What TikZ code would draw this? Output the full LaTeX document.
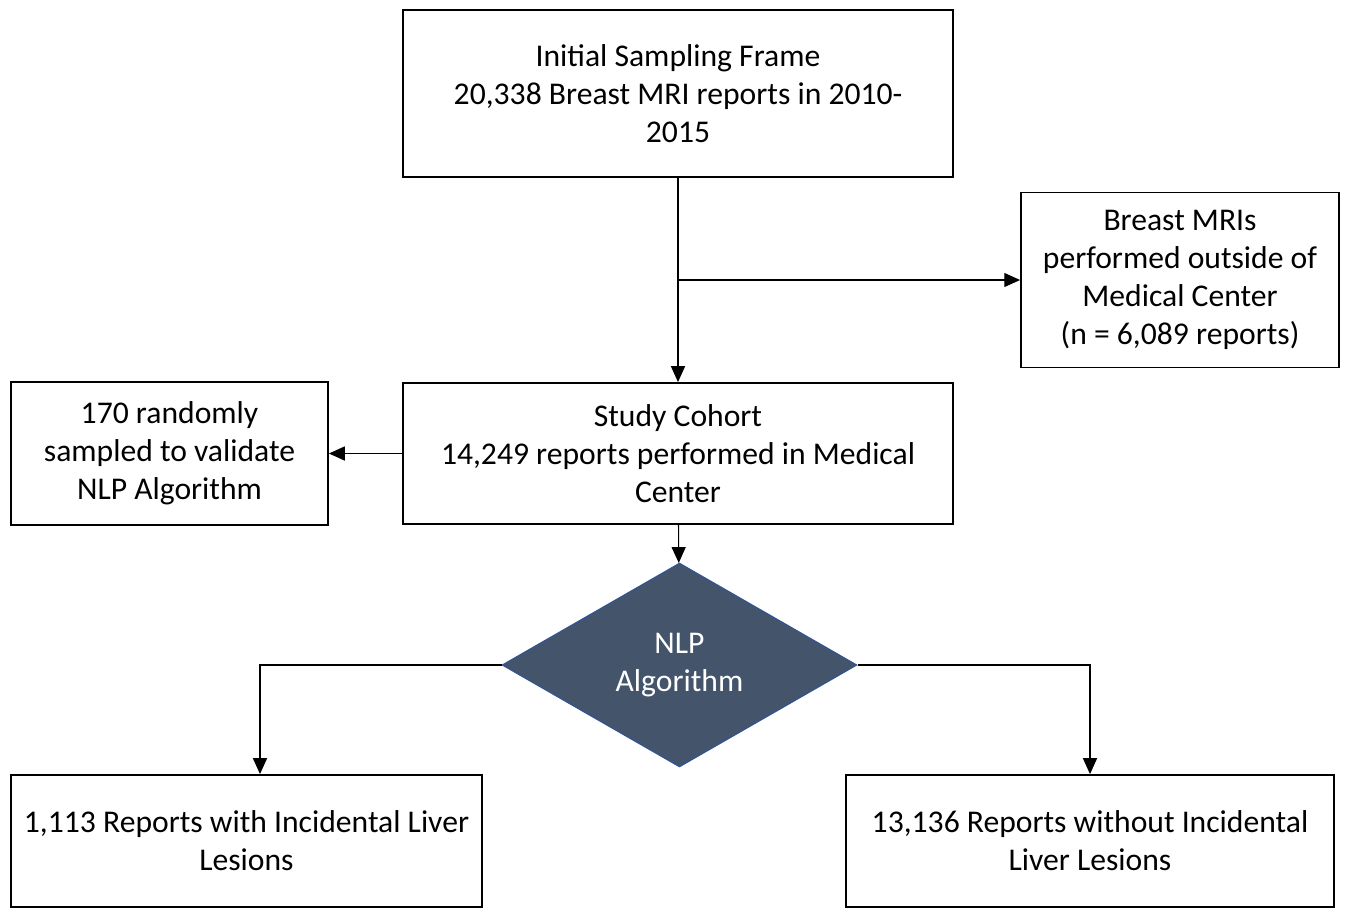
\documentclass[tikz,border=0pt]{standalone}
\usepackage{fontspec}
\setmainfont{Carlito}
\usepackage{xcolor}
\usepackage{tikz}
\usetikzlibrary{arrows.meta, positioning, shapes.geometric}

\definecolor{slate}{HTML}{44546A}
\definecolor{edgeblue}{HTML}{2F5597}

\begin{document}
\begin{tikzpicture}[x=0.02cm, y=-0.02cm, font=\fontsize{18}{21.7}\selectfont]
		\tikzstyle{box} = [draw=black, line width=1.1pt, rectangle, align=center, inner sep=0pt]
		\tikzstyle{decision} = [diamond, draw=edgeblue, line width=0.6pt, fill=slate, text=white, align=center, inner sep=0pt, minimum width=7.1cm, minimum height=4.08cm]
		\tikzstyle{arrow} = [line width=0.6pt, -{Triangle[length=9pt, width=8pt]}]

		\useasboundingbox (0, 0) rectangle (1346, 910);

		\node[box, minimum width=11cm, minimum height=3.34cm]	at (678, 93.5)	(frame)		{Initial Sampling Frame\\20,338 Breast MRI reports in 2010-\\2015};
		\node[box, minimum width=6.36cm, minimum height=3.5cm]	at (1180, 280)	(outside)	{Breast MRIs\\performed outside of\\Medical Center\\(n = 6,089 reports)};
		\node[box, minimum width=11cm, minimum height=2.82cm]	at (678, 453.5)	(cohort)	{Study Cohort\\14,249 reports performed in Medical\\Center};
		\node[box, minimum width=6.34cm, minimum height=2.86cm]	at (169.5, 453.5)	(sample)	{170 randomly\\sampled to validate\\NLP Algorithm};
		\node[decision]	at (679.5, 665)	(nlp)	{NLP\\Algorithm};
		\node[box, minimum width=9.42cm, minimum height=2.64cm]	at (246.5, 841)	(with)		{1,113 Reports with Incidental Liver\\Lesions};
		\node[box, minimum width=9.76cm, minimum height=2.64cm]	at (1090, 841)	(without)	{13,136 Reports without Incidental\\Liver Lesions};

		\coordinate (split) at (679, 280);

		\draw [arrow] (frame) -- (cohort);
		\draw [arrow] (split) -- (outside);
		\draw [arrow] (cohort.west |- sample.east) -- (sample);
		\draw [arrow] (cohort) -- (nlp);
		\draw [arrow] (nlp.west) -| ([xshift=0.27cm]with.north);
		\draw [arrow] (nlp.east) -| (without.north);
	\end{tikzpicture}
\end{document}
